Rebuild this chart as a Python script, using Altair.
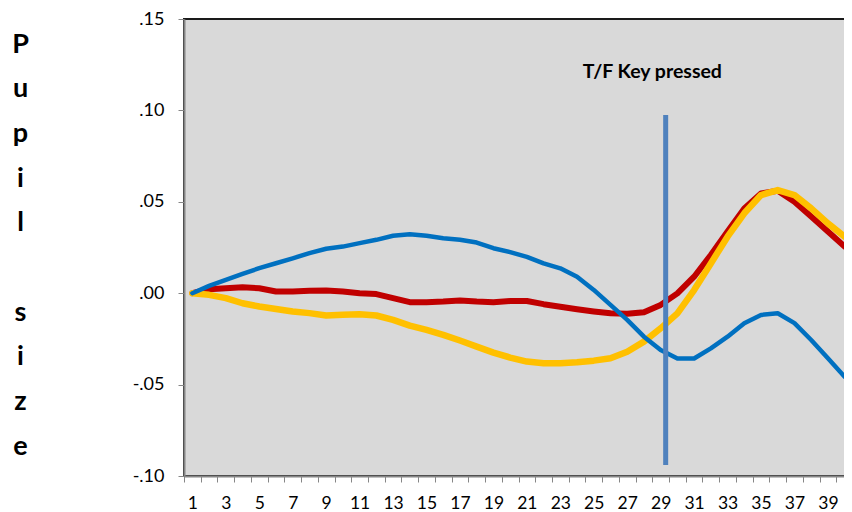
import altair as alt
import pandas as pd

samples = list(range(1, 41))

blue = [0.0, 0.004, 0.0073, 0.0106, 0.0137, 0.0164, 0.0191, 0.0219, 0.0243, 0.0255,
        0.0274, 0.0292, 0.0314, 0.0323, 0.0314, 0.0301, 0.0292, 0.0277, 0.0246, 0.0225,
        0.0199, 0.0163, 0.0136, 0.009, 0.0018, -0.0064, -0.0146, -0.0238, -0.0311, -0.0357,
        -0.0357, -0.0302, -0.0238, -0.0164, -0.0119, -0.011, -0.0164, -0.0256, -0.0356, -0.0457]

red = [0.0, 0.0022, 0.0027, 0.0033, 0.0027, 0.0009, 0.0009, 0.0013, 0.0015, 0.0009,
       0.0, -0.0005, -0.0027, -0.0049, -0.0049, -0.0046, -0.004, -0.0046, -0.0049, -0.0043,
       -0.0043, -0.006, -0.0074, -0.0088, -0.01, -0.011, -0.0113, -0.0104, -0.0064, -0.0001,
       0.009, 0.0209, 0.0337, 0.0464, 0.0546, 0.056, 0.05, 0.0419, 0.0337, 0.0255]

yellow = [0.0, -0.0009, -0.0027, -0.0055, -0.0073, -0.0086, -0.01, -0.0109, -0.0122, -0.0118,
          -0.0115, -0.0122, -0.0146, -0.0177, -0.0201, -0.0228, -0.0259, -0.0292, -0.0325, -0.0352,
          -0.0374, -0.0383, -0.0383, -0.0378, -0.0369, -0.0356, -0.032, -0.0265, -0.0192, -0.011,
          0.0017, 0.0163, 0.0309, 0.0437, 0.0537, 0.0564, 0.0537, 0.0464, 0.0382, 0.0309]

y_ticks = [-0.10, -0.05, 0.0, 0.05, 0.10, 0.15]
x_boundaries = [i + 0.5 for i in range(0, 41)]

key_press_x = 29.3
key_press_y = [0.0975, -0.094]
annotation = "T/F Key pressed"
annotation_pos = (28.5, 0.121)
y_title = ["P", "u", "p", "i", "l", "\u200b", "s", "i", "z", "e"]

W, H = 669, 457
FONT = "Lato"

xscale = alt.Scale(domain=[0.5, 40.5], nice=False, zero=False)
yscale = alt.Scale(domain=[-0.10, 0.15], nice=False, zero=False)

x_axis = alt.Axis(
    values=x_boundaries, title=None, grid=False,
    labelExpr="((datum.value + 0.5) % 2 == 1 && datum.value < 40) ? format(datum.value + 0.5, 'd') : ''",
    labelOffset=W / 40 / 2, labelOverlap=False, labelFlush=False,
    labelFont=FONT, labelFontSize=17.5, labelColor="#000000", labelPadding=12,
    tickColor="#868686", tickSize=6, tickWidth=1,
    domainColor="#868686", domainWidth=2,
)

y_axis = alt.Axis(
    values=y_ticks, grid=False,
    title=y_title,
    titleAngle=0, titleAlign="center", titleBaseline="middle",
    titleX=-164, titleY=25, titleLineHeight=44.7,
    titleFont=FONT, titleFontSize=27, titleFontWeight="bold", titleColor="#000000",
    labelExpr="(datum.value < 0 ? '-' : '') + replace(format(abs(datum.value), '.2f'), '0.', '.')",
    labelFont=FONT, labelFontSize=18, labelColor="#000000", labelPadding=14,
    labelOverlap=False, labelFlush=False,
    tickColor="#868686", tickSize=6, tickWidth=1,
    domainColor="#868686", domainWidth=2,
)


def series_layer(values, color, width):
    df = pd.DataFrame({"sample": samples, "value": values})
    return alt.Chart(df).mark_line(
        color=color, strokeWidth=width, strokeCap="round", strokeJoin="round"
    ).encode(
        x=alt.X("sample:Q", scale=xscale, axis=x_axis),
        y=alt.Y("value:Q", scale=yscale, axis=y_axis),
    )


red_layer = series_layer(red, "#C00000", 6)
yellow_layer = series_layer(yellow, "#FFC000", 6.5)
blue_layer = series_layer(blue, "#0070C0", 4.5)

rule_df = pd.DataFrame({"x": [key_press_x], "y": [key_press_y[0]], "y2": [key_press_y[1]]})
rule = alt.Chart(rule_df).mark_rule(color="#4F81BD", strokeWidth=5).encode(
    x=alt.X("x:Q", scale=xscale, axis=x_axis),
    y=alt.Y("y:Q", scale=yscale, axis=y_axis),
    y2="y2:Q",
)

text_df = pd.DataFrame({"x": [annotation_pos[0]], "y": [annotation_pos[1]], "t": [annotation]})
text = alt.Chart(text_df).mark_text(
    font=FONT, fontSize=19.5, fontWeight="bold", color="#000000", align="center", baseline="middle"
).encode(
    x=alt.X("x:Q", scale=xscale, axis=x_axis),
    y=alt.Y("y:Q", scale=yscale, axis=y_axis),
    text="t:N",
)

chart = alt.layer(red_layer, yellow_layer, blue_layer, rule, text).properties(
    width=W, height=H,
    autosize=alt.AutoSizeParams(type="none"),
    padding={"left": 176, "top": 11, "right": -9, "bottom": 40},
    background="#FFFFFF",
).configure_view(
    fill="#D9D9D9", stroke="#1a1a1a", strokeWidth=2
).configure_axis(
    labelOverlap=False
)

chart.save("out.html", embed_options={"renderer": "svg", "actions": False})
